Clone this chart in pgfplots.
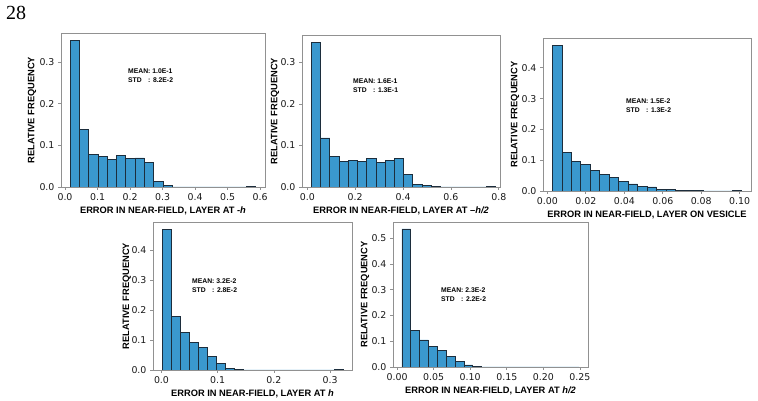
\documentclass[border=0pt]{standalone}
\usepackage{fontspec}
\usepackage{pgfplots}
\pgfplotsset{compat=1.18}
\setmainfont{Liberation Sans}
\newfontfamily\dejavu{DejaVu Sans}
\newfontfamily\libsans{Liberation Sans}
\newfontfamily\libserif{Liberation Serif}
\definecolor{barfill}{RGB}{58,152,206}
\definecolor{barline}{RGB}{28,45,60}
\definecolor{spinecol}{RGB}{145,145,145}
\definecolor{txt}{RGB}{25,25,25}
\newcommand{\annfont}{\libsans\bfseries\fontsize{6.8}{8}\selectfont}
\newcommand{\stdbox}{\setbox0\hbox{MEAN}\hbox to\wd0{STD\hfil}}
\pgfplotsset{
  hstyle/.style={
    scale only axis, anchor=south west,
    axis line style={spinecol, line width=0.8pt},
    tick align=outside, tick pos=left,
    major tick length=3pt,
    tick style={spinecol, line width=0.8pt},
    ymin=0, scaled ticks=false,
    tick label style={font=\dejavu\fontsize{9.4}{11}\selectfont, text=txt},
    /pgf/number format/assume math mode=true,
    /pgf/number format/fixed, /pgf/number format/fixed zerofill,
    yticklabel style={/pgf/number format/precision=1},
    label style={font=\libsans\bfseries\fontsize{9.3}{11}\selectfont, text=black},
    xlabel style={at={(axis description cs:0.5,0)}, anchor=center, yshift=-23.5pt},
  },
  hbar/.style={ybar interval, fill=barfill, draw=barline, line width=0.7pt},
}
\begin{document}
\begin{tikzpicture}[x=1pt,y=1pt]
\path[use as bounding box] (0,0) rectangle (758,401);
\node[anchor=base west, inner sep=0, font=\libserif\fontsize{20}{24}\selectfont] at (6,381) {28};

% Panel 1
\begin{axis}[hstyle, at={(61pt,214pt)}, width=204pt, height=154pt,
  xmin=-0.0123, xmax=0.615, ymax=0.37,
  xtick={0,0.1,0.2,0.3,0.4,0.5,0.6}, ytick={0,0.1,0.2,0.3},
  xticklabel style={/pgf/number format/precision=1},
  xlabel={ERROR IN NEAR-FIELD, LAYER AT -\textit{h}},
  ylabel={RELATIVE FREQUENCY},
  ylabel style={at={(axis description cs:-0.142,0.5)}, anchor=center}]
\addplot[hbar] coordinates {
(0.016,0.352) (0.0445,0.139) (0.073,0.078) (0.1015,0.073) (0.130,0.067)
(0.1585,0.076) (0.187,0.068) (0.2155,0.070) (0.244,0.060) (0.2725,0.014)
(0.301,0.003) (0.3295,0) (0.358,0) (0.3865,0) (0.415,0)
(0.4435,0) (0.472,0) (0.5005,0) (0.529,0) (0.5575,0.0012) (0.586,0)};
\end{axis}

% Panel 2
\begin{axis}[hstyle, at={(302pt,214pt)}, width=198pt, height=152pt,
  xmin=-0.022, xmax=0.805, ymax=0.366,
  xtick={0,0.2,0.4,0.6,0.8}, ytick={0,0.1,0.2,0.3},
  xticklabel style={/pgf/number format/precision=1},
  xlabel={ERROR IN NEAR-FIELD, LAYER AT \textendash\textit{h/2}},
  ylabel={RELATIVE FREQUENCY},
  ylabel style={at={(axis description cs:-0.136,0.5)}, anchor=center}]
\addplot[hbar] coordinates {
(0.017,0.349) (0.0555,0.118) (0.094,0.073) (0.1325,0.061) (0.171,0.064)
(0.2095,0.061) (0.248,0.069) (0.2865,0.059) (0.325,0.064) (0.3635,0.069)
(0.402,0.031) (0.4405,0.007) (0.479,0.004) (0.5175,0.0015) (0.556,0)
(0.5945,0) (0.633,0) (0.6715,0) (0.710,0) (0.7485,0.0012) (0.787,0)};
\end{axis}

% Panel 3
\begin{axis}[hstyle, at={(543pt,210pt)}, width=208pt, height=153pt,
  xmin=-0.0023, xmax=0.1059, ymax=0.497,
  xtick={0,0.02,0.04,0.06,0.08,0.10}, ytick={0,0.1,0.2,0.3,0.4},
  xticklabel style={/pgf/number format/precision=2},
  xlabel={ERROR IN NEAR-FIELD, LAYER ON VESICLE},
  ylabel={RELATIVE FREQUENCY},
  ylabel style={at={(axis description cs:-0.135,0.5)}, anchor=center}]
\addplot[hbar] coordinates {
(0.0026,0.473) (0.00752,0.126) (0.01244,0.097) (0.01736,0.085) (0.02228,0.066)
(0.0272,0.053) (0.03212,0.045) (0.03704,0.030) (0.04196,0.023) (0.04688,0.014)
(0.0518,0.013) (0.05672,0.006) (0.06164,0.004) (0.06656,0.002) (0.07148,0.001)
(0.0764,0.0005) (0.08132,0) (0.08624,0) (0.09116,0) (0.09608,0.0012) (0.101,0)};
\end{axis}

% Panel 4
\begin{axis}[hstyle, at={(153pt,31pt)}, width=199pt, height=148pt,
  xmin=-0.0151, xmax=0.339, ymax=0.4935,
  xtick={0,0.1,0.2,0.3}, ytick={0,0.1,0.2,0.3,0.4},
  xticklabel style={/pgf/number format/precision=1},
  xlabel={ERROR IN NEAR-FIELD, LAYER AT \textit{h}},
  ylabel={RELATIVE FREQUENCY},
  ylabel style={at={(axis description cs:-0.132,0.5)}, anchor=center}]
\addplot[hbar] coordinates {
(0.001,0.470) (0.0171,0.179) (0.0332,0.124) (0.0493,0.091) (0.0654,0.075)
(0.0815,0.046) (0.0976,0.022) (0.1137,0.005) (0.1298,0.001) (0.1459,0)
(0.162,0) (0.1781,0) (0.1942,0) (0.2103,0) (0.2264,0)
(0.2425,0) (0.2586,0) (0.2747,0) (0.2908,0) (0.3069,0.002) (0.323,0)};
\end{axis}

% Panel 5
\begin{axis}[hstyle, at={(393pt,34pt)}, width=195pt, height=145pt,
  xmin=-0.0055, xmax=0.261, ymax=0.563,
  xtick={0,0.05,0.10,0.15,0.20,0.25}, ytick={0,0.1,0.2,0.3,0.4,0.5},
  xticklabel style={/pgf/number format/precision=2},
  xlabel={ERROR IN NEAR-FIELD, LAYER AT \textit{h/2}},
  ylabel={RELATIVE FREQUENCY},
  ylabel style={at={(axis description cs:-0.144,0.5)}, anchor=center}]
\addplot[hbar] coordinates {
(0.0066,0.536) (0.01871,0.142) (0.03082,0.105) (0.04293,0.080) (0.05504,0.065)
(0.06715,0.041) (0.07926,0.023) (0.09137,0.008) (0.10348,0.002) (0.11559,0)
(0.1277,0) (0.13981,0) (0.15192,0) (0.16403,0) (0.17614,0)
(0.18825,0) (0.20036,0) (0.21247,0) (0.22458,0) (0.23669,0) (0.2488,0)};
\end{axis}

% Annotations
\node[anchor=west, inner sep=0, font=\annfont] at (128,330) {MEAN: 1.0E-1};
\node[anchor=west, inner sep=0, font=\annfont] at (128,321) {\stdbox: 8.2E-2};
\node[anchor=west, inner sep=0, font=\annfont] at (353,320) {MEAN: 1.6E-1};
\node[anchor=west, inner sep=0, font=\annfont] at (353,311) {\stdbox: 1.3E-1};
\node[anchor=west, inner sep=0, font=\annfont] at (626,300) {MEAN: 1.5E-2};
\node[anchor=west, inner sep=0, font=\annfont] at (626,291) {\stdbox: 1.3E-2};
\node[anchor=west, inner sep=0, font=\annfont] at (192,120) {MEAN: 3.2E-2};
\node[anchor=west, inner sep=0, font=\annfont] at (192,111) {\stdbox: 2.8E-2};
\node[anchor=west, inner sep=0, font=\annfont] at (441,111) {MEAN: 2.3E-2};
\node[anchor=west, inner sep=0, font=\annfont] at (441,102) {\stdbox: 2.2E-2};
\end{tikzpicture}
\end{document}
